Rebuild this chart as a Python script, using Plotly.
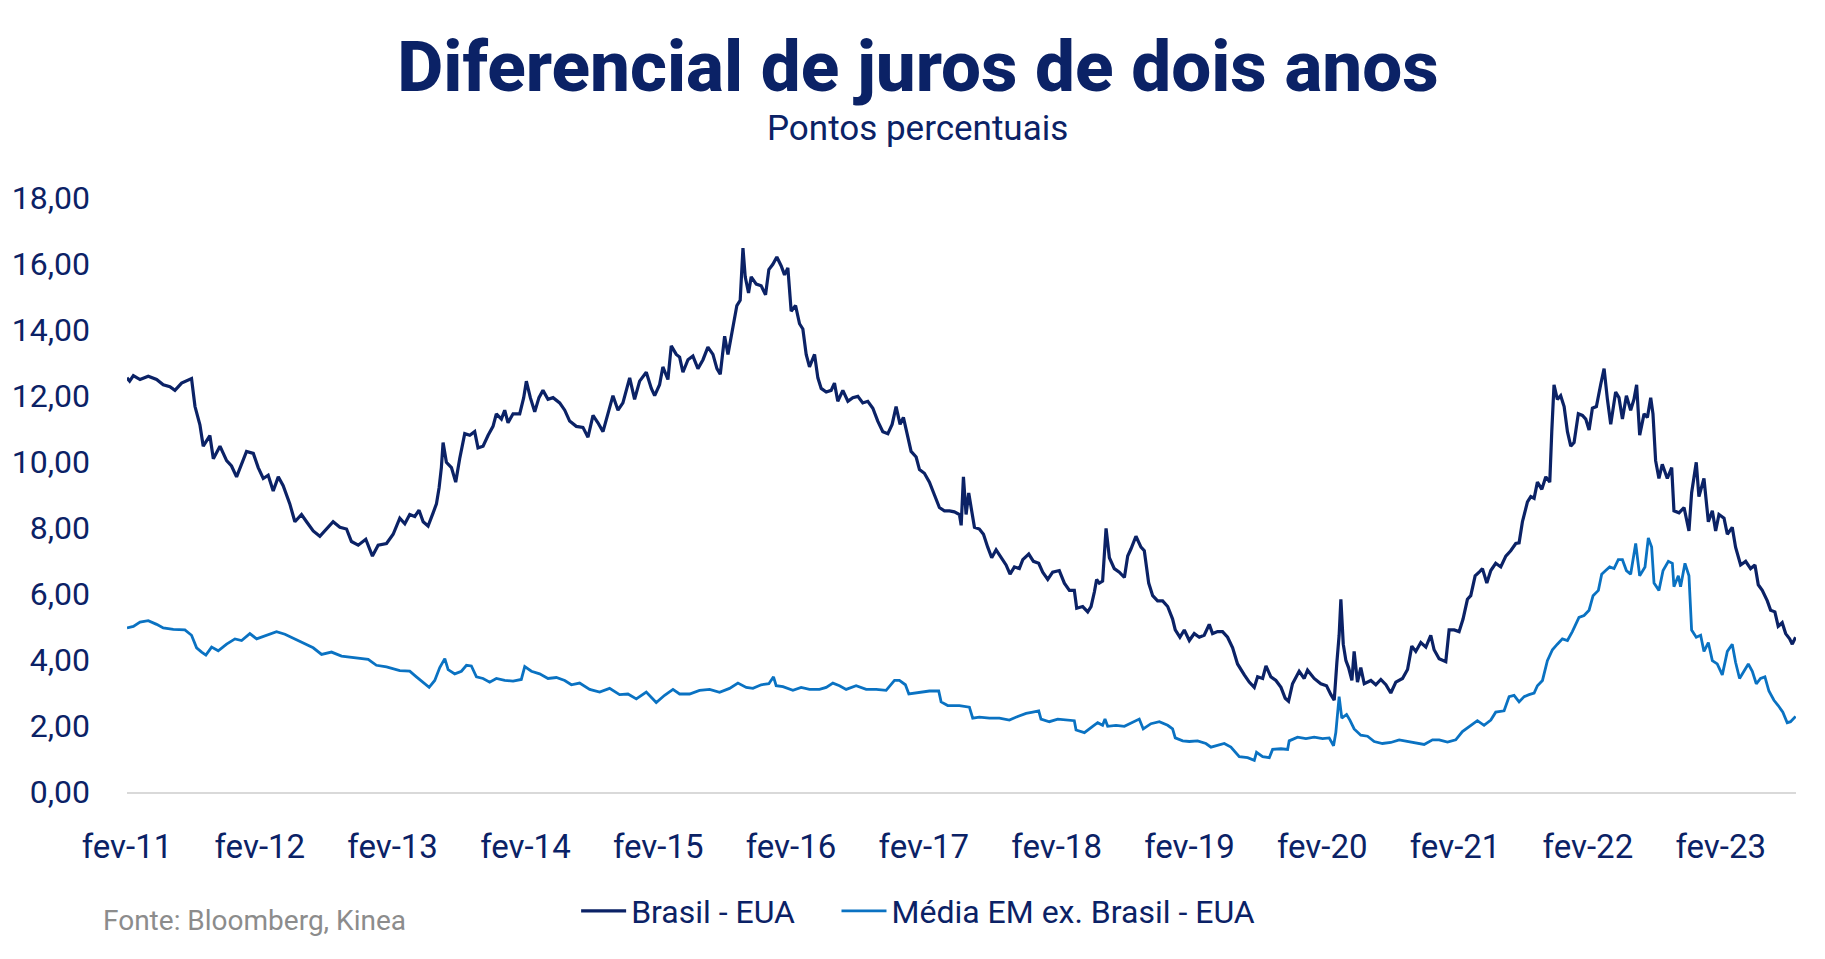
import plotly.graph_objects as go

# ---------------- texts ----------------
title_text = "Diferencial de juros de dois anos"
subtitle_text = "Pontos percentuais"
source_text = "Fonte: Bloomberg, Kinea"
series_names = ["Brasil - EUA", "Média EM ex. Brasil - EUA"]

# ---------------- axes ----------------
tick_years = [2011, 2012, 2013, 2014, 2015, 2016, 2017, 2018, 2019, 2020, 2021, 2022, 2023]
tick_labels = ["fev-11", "fev-12", "fev-13", "fev-14", "fev-15", "fev-16", "fev-17",
               "fev-18", "fev-19", "fev-20", "fev-21", "fev-22", "fev-23"]
y_ticks = [0, 2, 4, 6, 8, 10, 12, 14, 16, 18]
y_tick_labels = ["0,00", "2,00", "4,00", "6,00", "8,00", "10,00", "12,00", "14,00", "16,00", "18,00"]

# ---------------- data (decimal year, percentage points) ----------------
br_t = [2011.085, 2011.105, 2011.133, 2011.183, 2011.245, 2011.308, 2011.358, 2011.408, 2011.446, 2011.496,
        2011.571, 2011.597, 2011.634, 2011.659, 2011.684, 2011.709, 2011.735, 2011.785, 2011.835, 2011.872,
        2011.910, 2011.948, 2011.985, 2012.036, 2012.073, 2012.111, 2012.148, 2012.186, 2012.224, 2012.261,
        2012.311, 2012.349, 2012.399, 2012.437, 2012.487, 2012.537, 2012.587, 2012.637, 2012.688, 2012.738,
        2012.775, 2012.826, 2012.883, 2012.933, 2012.976, 2013.039, 2013.089, 2013.139,
        2013.177, 2013.214, 2013.252, 2013.284, 2013.315, 2013.352, 2013.390, 2013.415, 2013.435, 2013.452,
        2013.465, 2013.490, 2013.528, 2013.560, 2013.590, 2013.628, 2013.666, 2013.703, 2013.728, 2013.766,
        2013.804, 2013.841, 2013.866, 2013.904, 2013.929, 2013.954, 2013.992, 2014.042, 2014.072, 2014.092,
        2014.122, 2014.155, 2014.187, 2014.217, 2014.255, 2014.293, 2014.343, 2014.381, 2014.418, 2014.468,
        2014.518, 2014.556, 2014.594, 2014.631, 2014.669, 2014.707, 2014.744, 2014.782, 2014.819, 2014.870,
        2014.907, 2014.945, 2014.995, 2015.033, 2015.058, 2015.095, 2015.120, 2015.158, 2015.183, 2015.221,
        2015.246, 2015.271, 2015.309, 2015.346, 2015.384, 2015.422, 2015.459, 2015.497, 2015.527, 2015.552,
        2015.585, 2015.610, 2015.635, 2015.660, 2015.677, 2015.702, 2015.723, 2015.740, 2015.765, 2015.785,
        2015.823, 2015.860, 2015.893, 2015.918, 2015.948, 2015.978, 2016.011, 2016.036, 2016.061, 2016.086,
        2016.119, 2016.149, 2016.174, 2016.199, 2016.224, 2016.262, 2016.287, 2016.312, 2016.350, 2016.387,
        2016.412, 2016.437, 2016.475, 2016.513, 2016.550, 2016.588, 2016.625, 2016.663, 2016.701, 2016.738,
        2016.776, 2016.814, 2016.846, 2016.876, 2016.906, 2016.931, 2016.964, 2016.989, 2017.027, 2017.052,
        2017.089, 2017.127, 2017.165, 2017.202, 2017.240, 2017.278, 2017.315, 2017.353,
        2017.366, 2017.383, 2017.403, 2017.423, 2017.441, 2017.466, 2017.503, 2017.534, 2017.566, 2017.596,
        2017.629, 2017.667, 2017.704, 2017.734, 2017.767, 2017.804, 2017.830, 2017.875, 2017.910, 2017.950,
        2017.980, 2018.018, 2018.055, 2018.105, 2018.143, 2018.181, 2018.218, 2018.236, 2018.281, 2018.319,
        2018.344, 2018.369, 2018.386, 2018.406, 2018.431, 2018.457, 2018.482, 2018.519, 2018.557, 2018.595,
        2018.620, 2018.645, 2018.682, 2018.720, 2018.745, 2018.778, 2018.808, 2018.845, 2018.883, 2018.921,
        2018.958, 2018.978, 2019.013, 2019.046, 2019.084, 2019.121, 2019.159, 2019.196, 2019.234, 2019.259,
        2019.297, 2019.334, 2019.372, 2019.410, 2019.447,
        2019.498, 2019.535, 2019.573, 2019.598, 2019.636, 2019.661, 2019.698, 2019.736, 2019.774, 2019.806,
        2019.831, 2019.861, 2019.911, 2019.949, 2019.974, 2020.024, 2020.074, 2020.117, 2020.150, 2020.175,
        2020.195, 2020.212, 2020.225, 2020.243, 2020.263, 2020.283, 2020.308, 2020.325, 2020.350, 2020.375,
        2020.401, 2020.451, 2020.488, 2020.526, 2020.564, 2020.601, 2020.639, 2020.689, 2020.727, 2020.759,
        2020.789, 2020.827, 2020.865, 2020.902, 2020.927, 2020.965, 2021.015, 2021.040, 2021.078, 2021.115,
        2021.145, 2021.178, 2021.203, 2021.236, 2021.266, 2021.291, 2021.324, 2021.354, 2021.391, 2021.429,
        2021.467, 2021.504, 2021.542, 2021.567,
        2021.592, 2021.630, 2021.655, 2021.680, 2021.705, 2021.738, 2021.768, 2021.798, 2021.813, 2021.830,
        2021.855, 2021.880, 2021.906, 2021.931, 2021.956, 2021.981, 2022.013, 2022.044, 2022.069, 2022.094,
        2022.119, 2022.149, 2022.181, 2022.207, 2022.232, 2022.257, 2022.294, 2022.319, 2022.345, 2022.375,
        2022.407, 2022.432, 2022.452, 2022.475, 2022.508, 2022.533, 2022.558, 2022.575, 2022.595, 2022.620,
        2022.645, 2022.683, 2022.716, 2022.733, 2022.771, 2022.809, 2022.846, 2022.866, 2022.901, 2022.921,
        2022.959, 2022.992, 2023.022, 2023.047, 2023.072, 2023.110, 2023.135, 2023.172, 2023.197, 2023.235,
        2023.273, 2023.310, 2023.343, 2023.368, 2023.398, 2023.436, 2023.461, 2023.493, 2023.518, 2023.548,
        2023.574, 2023.604, 2023.624, 2023.649]
br_v = [12.55, 12.45, 12.62, 12.50, 12.60, 12.50, 12.34, 12.28, 12.17, 12.39,
        12.53, 11.68, 11.13, 10.48, 10.64, 10.80, 10.10, 10.48, 10.04, 9.88,
        9.55, 9.93, 10.32, 10.26, 9.83, 9.50, 9.60, 9.12, 9.55, 9.28,
        8.73, 8.19, 8.41, 8.19, 7.91, 7.75, 7.97, 8.19, 8.02, 7.97,
        7.59, 7.48, 7.66, 7.15, 7.48, 7.53, 7.81, 8.30,
        8.13, 8.41, 8.35, 8.54, 8.19, 8.06, 8.46, 8.73, 9.22, 9.83,
        10.59, 9.99, 9.83, 9.39, 10.10, 10.86, 10.81, 10.92, 10.43, 10.48,
        10.81, 11.08, 11.46, 11.30, 11.57, 11.19, 11.46, 11.46, 11.95, 12.45,
        11.95, 11.52, 11.95, 12.17, 11.90, 11.95, 11.79, 11.57, 11.24, 11.08,
        11.05, 10.75, 11.41, 11.19, 10.92, 11.46, 12.01, 11.57, 11.79, 12.55,
        11.90, 12.45, 12.72, 12.23, 12.01, 12.34, 12.88, 12.50, 13.52, 13.26,
        13.18, 12.72, 13.10, 13.21, 12.83, 13.10, 13.48, 13.26, 12.83, 12.66,
        13.81, 13.26, 13.81, 14.25, 14.74, 14.90, 16.48, 15.61, 15.12, 15.61,
        15.39, 15.34, 15.07, 15.83, 15.99, 16.21, 15.94, 15.67, 15.88, 14.57,
        14.74, 14.19, 14.03, 13.26, 12.88, 13.26, 12.55, 12.23, 12.12, 12.17,
        12.39, 11.84, 12.17, 11.84, 11.95, 11.99, 11.79, 11.84, 11.63, 11.24,
        10.92, 10.86, 11.14, 11.68, 11.14, 11.35, 10.70, 10.32, 10.15, 9.77,
        9.66, 9.39, 9.00, 8.62, 8.52, 8.52, 8.49, 8.41,
        8.08, 9.55, 8.41, 9.06, 8.62, 8.02, 7.97, 7.81, 7.42, 7.10,
        7.34, 7.10, 6.88, 6.60, 6.82, 6.77, 7.04, 7.21, 6.99, 6.93,
        6.66, 6.44, 6.66, 6.71, 6.33, 6.11, 6.11, 5.57, 5.62, 5.46,
        5.62, 6.06, 6.44, 6.33, 6.39, 7.99, 7.10, 6.77, 6.66, 6.50,
        7.15, 7.37, 7.75, 7.42, 7.31, 6.33, 5.95, 5.79, 5.79, 5.62,
        5.24, 4.91, 4.69, 4.91, 4.59, 4.80, 4.69, 4.75, 5.08, 4.80,
        4.86, 4.86, 4.69, 4.37, 3.88,
        3.55, 3.33, 3.17, 3.49, 3.44, 3.82, 3.49, 3.38, 3.17, 2.84,
        2.75, 3.28, 3.66, 3.44, 3.69, 3.44, 3.28, 3.22, 2.95, 2.78,
        3.93, 4.75, 5.84, 4.48, 3.98, 3.77, 3.38, 4.26, 3.33, 3.77,
        3.28, 3.38, 3.25, 3.41, 3.25, 3.00, 3.33, 3.44, 3.71, 4.42,
        4.26, 4.53, 4.39, 4.75, 4.31, 4.04, 3.95, 4.91, 4.91, 4.86,
        5.24, 5.84, 5.95, 6.55, 6.66, 6.77, 6.33, 6.71, 6.93, 6.82,
        7.15, 7.31, 7.53, 7.55,
        8.19, 8.79, 8.95, 8.90, 9.39, 9.17, 9.55, 9.39, 10.92, 12.34,
        11.90, 12.01, 11.68, 10.92, 10.48, 10.59, 11.46, 11.41, 11.30, 10.97,
        11.63, 11.68, 12.34, 12.83, 11.90, 11.14, 12.12, 11.95, 11.30, 12.01,
        11.57, 11.90, 12.34, 10.81, 11.46, 11.35, 11.95, 11.46, 10.04, 9.50,
        9.93, 9.50, 9.83, 8.52, 8.46, 8.62, 7.91, 9.06, 9.99, 8.95,
        9.50, 8.19, 8.52, 7.91, 8.41, 8.30, 7.81, 8.02, 7.42, 6.88,
        6.99, 6.77, 6.88, 6.28, 6.11, 5.79, 5.51, 5.46, 5.02, 5.13,
        4.80, 4.64, 4.48, 4.69]

em_t = [2011.085, 2011.133, 2011.183, 2011.245, 2011.308, 2011.358, 2011.434, 2011.521, 2011.571, 2011.609,
        2011.647, 2011.679, 2011.722, 2011.772, 2011.835, 2011.898, 2011.948, 2012.010, 2012.061, 2012.136,
        2012.211, 2012.274, 2012.337, 2012.412, 2012.487, 2012.550, 2012.625, 2012.700, 2012.763, 2012.826,
        2012.901, 2012.963, 2013.039, 2013.139,
        2013.214, 2013.264, 2013.315, 2013.360, 2013.402, 2013.440, 2013.478, 2013.503, 2013.553, 2013.603,
        2013.641, 2013.678, 2013.716, 2013.766, 2013.816, 2013.866, 2013.929, 2013.992, 2014.054, 2014.080,
        2014.130, 2014.192, 2014.255, 2014.318, 2014.381, 2014.431, 2014.493, 2014.569, 2014.644, 2014.719,
        2014.794, 2014.857, 2014.920, 2014.995, 2015.070, 2015.133, 2015.196, 2015.246,
        2015.321, 2015.396, 2015.472, 2015.547, 2015.622, 2015.685, 2015.748, 2015.798, 2015.860, 2015.918,
        2015.953, 2015.973, 2016.024, 2016.099, 2016.161, 2016.224, 2016.299, 2016.350, 2016.400, 2016.450,
        2016.500, 2016.575, 2016.651, 2016.726, 2016.801, 2016.864, 2016.901, 2016.946, 2016.972, 2017.052,
        2017.127, 2017.197, 2017.215, 2017.265, 2017.353,
        2017.428, 2017.453, 2017.503, 2017.579, 2017.654, 2017.729, 2017.792, 2017.855, 2017.905, 2017.950,
        2017.967, 2018.030, 2018.093, 2018.156, 2018.218, 2018.231, 2018.294, 2018.356, 2018.394, 2018.431,
        2018.449, 2018.469, 2018.532, 2018.595, 2018.657, 2018.707, 2018.737, 2018.795, 2018.858, 2018.921,
        2018.958, 2018.978, 2019.034, 2019.084, 2019.146, 2019.209, 2019.247, 2019.297, 2019.347, 2019.397,
        2019.460,
        2019.523, 2019.573, 2019.590, 2019.636, 2019.686, 2019.711, 2019.774, 2019.824, 2019.836, 2019.899,
        2019.962, 2020.024, 2020.087, 2020.137, 2020.170, 2020.187, 2020.212, 2020.232, 2020.268, 2020.293,
        2020.325, 2020.375, 2020.426, 2020.476, 2020.538, 2020.601, 2020.664, 2020.727, 2020.789, 2020.852,
        2020.915, 2020.965, 2021.028, 2021.090, 2021.140, 2021.191, 2021.253, 2021.303, 2021.354, 2021.391,
        2021.454, 2021.492, 2021.529, 2021.567,
        2021.605, 2021.642, 2021.680, 2021.705, 2021.743, 2021.780, 2021.818, 2021.855, 2021.893, 2021.931,
        2021.968, 2022.018, 2022.056, 2022.094, 2022.124, 2022.164, 2022.189, 2022.219, 2022.249, 2022.282,
        2022.314, 2022.345, 2022.375, 2022.407, 2022.445, 2022.475, 2022.515, 2022.540, 2022.565, 2022.583,
        2022.620, 2022.651, 2022.691, 2022.721, 2022.733, 2022.766, 2022.783, 2022.816, 2022.846, 2022.866,
        2022.901, 2022.934, 2022.959, 2022.992, 2023.022, 2023.059, 2023.097, 2023.135, 2023.172, 2023.197,
        2023.227, 2023.260, 2023.293, 2023.323, 2023.353, 2023.385, 2023.418, 2023.448, 2023.486, 2023.518,
        2023.553, 2023.586, 2023.611, 2023.649]
em_v = [4.97, 5.02, 5.15, 5.19, 5.08, 4.97, 4.93, 4.91, 4.75, 4.37,
        4.24, 4.15, 4.39, 4.28, 4.48, 4.64, 4.59, 4.80, 4.64, 4.75,
        4.86, 4.78, 4.66, 4.53, 4.37, 4.17, 4.24, 4.12, 4.09, 4.06,
        4.02, 3.84, 3.79, 3.68,
        3.66, 3.49, 3.33, 3.17, 3.38, 3.77, 4.04, 3.71, 3.58, 3.66,
        3.84, 3.82, 3.49, 3.44, 3.33, 3.44, 3.38, 3.36, 3.41, 3.80,
        3.66, 3.58, 3.44, 3.47, 3.38, 3.25, 3.30, 3.11, 3.03, 3.14,
        2.95, 2.97, 2.82, 3.03, 2.71, 2.93, 3.11, 2.97,
        2.97, 3.08, 3.11, 3.02, 3.14, 3.30, 3.17, 3.14, 3.25, 3.28,
        3.49, 3.22, 3.19, 3.08, 3.17, 3.11, 3.11, 3.17, 3.30, 3.22,
        3.11, 3.22, 3.11, 3.11, 3.08, 3.38, 3.38, 3.25, 2.97, 3.02,
        3.06, 3.06, 2.73, 2.62, 2.62,
        2.57, 2.24, 2.27, 2.24, 2.24, 2.18, 2.29, 2.38, 2.42, 2.46,
        2.21, 2.13, 2.21, 2.18, 2.16, 1.88, 1.80, 1.99, 2.10, 2.02,
        2.21, 1.99, 2.02, 1.99, 2.10, 2.21, 1.91, 2.07, 2.13, 2.02,
        1.91, 1.64, 1.55, 1.53, 1.55, 1.47, 1.36, 1.42, 1.47, 1.36,
        1.07,
        1.04, 0.96, 1.20, 1.07, 1.04, 1.29, 1.31, 1.29, 1.55, 1.66,
        1.62, 1.66, 1.62, 1.64, 1.40, 1.80, 2.89, 2.24, 2.35, 2.18,
        1.91, 1.72, 1.69, 1.53, 1.47, 1.50, 1.58, 1.53, 1.47, 1.44,
        1.58, 1.58, 1.51, 1.58, 1.83, 1.97, 2.16, 2.02, 2.18, 2.42,
        2.46, 2.89, 2.93, 2.73,
        2.89, 2.95, 3.00, 3.22, 3.38, 3.98, 4.31, 4.48, 4.64, 4.59,
        4.86, 5.29, 5.35, 5.51, 5.95, 6.11, 6.60, 6.71, 6.82, 6.77,
        7.04, 7.04, 6.71, 6.60, 7.53, 6.55, 6.82, 7.70, 7.42, 6.33,
        6.11, 6.71, 6.99, 6.93, 6.22, 6.55, 6.22, 6.93, 6.55, 4.91,
        4.69, 4.75, 4.26, 4.53, 3.98, 3.88, 3.55, 4.26, 4.48, 3.93,
        3.44, 3.66, 3.88, 3.66, 3.28, 3.44, 3.49, 3.06, 2.78, 2.62,
        2.42, 2.10, 2.13, 2.29]

# ---------------- styling ----------------
NAVY = "#0b2266"
BLUE = "#0a72c2"
FONT = "Roboto"

fig = go.Figure()
fig.add_trace(go.Scatter(x=br_t, y=br_v, mode="lines", name=series_names[0],
                         line=dict(color=NAVY, width=3.2), legend="legend"))
fig.add_trace(go.Scatter(x=em_t, y=em_v, mode="lines", name=series_names[1],
                         line=dict(color=BLUE, width=2.8), legend="legend2"))

legend_common = dict(orientation="h", xanchor="left", yanchor="middle", y=-0.2003,
                     font=dict(family=FONT, size=32, color=NAVY), itemwidth=45,
                     bgcolor="rgba(0,0,0,0)")

feb_offset = 31 / 365
fig.update_layout(
    width=1825, height=959, autosize=False,
    paper_bgcolor="white", plot_bgcolor="white",
    margin=dict(l=125, r=29, t=198, b=167),
    font=dict(family=FONT, color=NAVY, size=32),
    title=dict(text=title_text, x=0.503, xref="container", xanchor="center",
               y=1 - 66 / 959, yref="container", yanchor="middle",
               font=dict(family=FONT, size=71, color=NAVY, weight=800)),
    showlegend=True,
    legend=dict(x=0.2691, **legend_common),
    legend2=dict(x=0.4251, **legend_common),
    xaxis=dict(range=[2011.085, 2023.652], tickvals=[yr + feb_offset for yr in tick_years],
               ticktext=tick_labels, showgrid=False, zeroline=False, showline=True,
               linecolor="#d9d9d9", linewidth=2, ticks="", ticklabelstandoff=24,
               tickfont=dict(family=FONT, size=33, color=NAVY)),
    yaxis=dict(range=[0, 18], tickvals=y_ticks, ticktext=y_tick_labels, showgrid=False,
               zeroline=False, showline=False, ticks="", ticklabelstandoff=36,
               tickfont=dict(family=FONT, size=32, color=NAVY)),
    annotations=[
        dict(text=subtitle_text, xref="paper", yref="paper", x=0.4734, y=1.1178,
             xanchor="center", yanchor="middle", showarrow=False,
             font=dict(family=FONT, size=35, color=NAVY)),
        dict(text=source_text, xref="paper", yref="paper", x=-0.0154, y=-0.2155,
             xanchor="left", yanchor="middle", showarrow=False,
             font=dict(family=FONT, size=28, color="#8c8c8c")),
    ],
)

fig.write_html("out.html")
